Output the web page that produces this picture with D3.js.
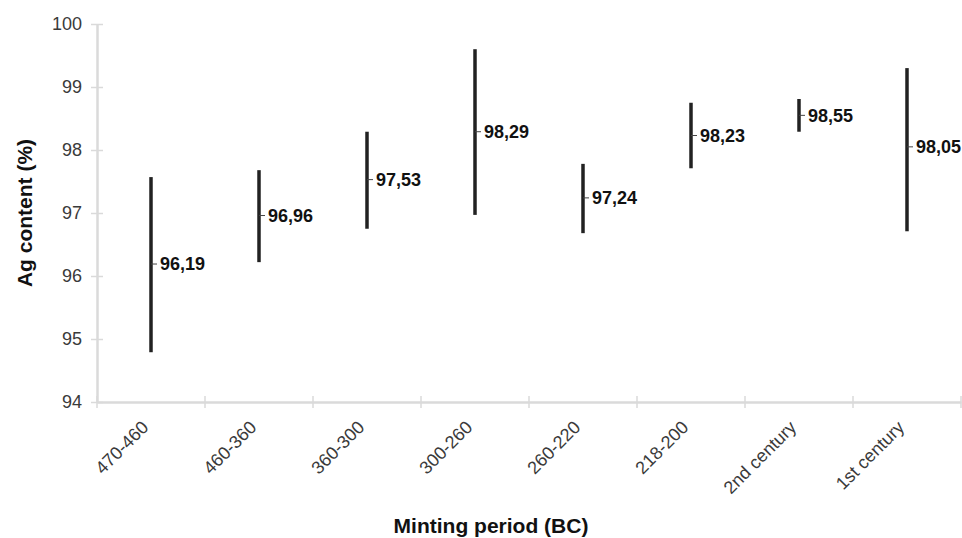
<!DOCTYPE html>
<html>
<head>
<meta charset="utf-8">
<script src="https://cdn.jsdelivr.net/npm/d3@7"></script>
<style>
  body { margin: 0; background: #fff; }
  text { font-family: "Liberation Sans", Arial, sans-serif; }
</style>
</head>
<body>
<div id="chart-area"></div>
<script>
// minting periods and Ag content (%) ranges
var periods = ["470-460", "460-360", "360-300", "300-260", "260-220", "218-200", "2nd century", "1st century"];
var mins  = [94.79, 96.22, 96.75, 96.97, 96.68, 97.71, 98.29, 96.71];
var maxs  = [97.57, 97.68, 98.29, 99.60, 97.78, 98.75, 98.81, 99.30];
var means = [96.19, 96.96, 97.53, 98.29, 97.24, 98.23, 98.55, 98.05];
var yTicks = [94, 95, 96, 97, 98, 99, 100];

var margin = {top: 24, right: 1, bottom: 136, left: 97};
var width = 962 - margin.left - margin.right;
var height = 538 - margin.top - margin.bottom;

var svg = d3.select("#chart-area").append("svg")
    .attr("width", 962)
    .attr("height", 538);

var g = svg.append("g")
    .attr("transform", "translate(" + margin.left + "," + margin.top + ")");

var data = periods.map(function(p, i){
  return {period: p, min: mins[i], max: maxs[i], mean: means[i]};
});

var xscale = d3.scaleBand()
    .domain(periods)
    .range([0, width]);

var yscale = d3.scaleLinear()
    .domain([94, 100])
    .range([height, 0]);

var axisColor = "#dadada";

// y axis
var leftaxis = d3.axisLeft(yscale)
    .tickValues(yTicks)
    .tickFormat(d3.format("d"))
    .tickSize(0)
    .tickPadding(15);

var yg = g.append("g").call(leftaxis);
yg.select(".domain").attr("stroke", axisColor).attr("stroke-width", 2.5);
yg.selectAll(".tick text")
  .attr("fill", "#3a3a3a")
  .attr("font-size", "18px")
  .style("font-family", "'Liberation Sans', Arial, sans-serif");
yg.selectAll(".tick").append("line")
  .attr("x1", -6).attr("x2", 6)
  .attr("stroke", axisColor).attr("stroke-width", 1.5);

// x axis
var bottomaxis = d3.axisBottom(xscale).tickSize(0).tickFormat("");
var xg = g.append("g")
    .attr("transform", "translate(0," + height + ")")
    .call(bottomaxis);
xg.select(".domain").attr("stroke", axisColor).attr("stroke-width", 2.5);
xg.selectAll(".tick").remove();

// category boundary ticks
var bounds = periods.map(function(p){ return xscale(p); }).concat([width]);
xg.selectAll(".bound")
  .data(bounds)
  .enter().append("line")
  .attr("x1", function(d){ return d; })
  .attr("x2", function(d){ return d; })
  .attr("y1", -6).attr("y2", 6)
  .attr("stroke", axisColor).attr("stroke-width", 1.5);

// rotated category labels
xg.selectAll(".xlab")
  .data(periods)
  .enter().append("text")
  .attr("text-anchor", "end")
  .attr("fill", "#3a3a3a")
  .attr("font-size", "18px")
  .attr("transform", function(d){
    return "translate(" + (xscale(d) + xscale.bandwidth()/2 - 6) + ",22) rotate(-45)";
  })
  .attr("dy", "0.35em")
  .text(function(d){ return d; });

// range bars
var cx = function(d){ return xscale(d.period) + xscale.bandwidth()/2; };

g.selectAll(".range")
  .data(data)
  .enter().append("line")
  .attr("x1", cx).attr("x2", cx)
  .attr("y1", function(d){ return yscale(d.min); })
  .attr("y2", function(d){ return yscale(d.max); })
  .attr("stroke", "#222")
  .attr("stroke-width", 3.5);

// mean tick
g.selectAll(".meantick")
  .data(data)
  .enter().append("line")
  .attr("x1", cx)
  .attr("x2", function(d){ return cx(d) + 6; })
  .attr("y1", function(d){ return yscale(d.mean); })
  .attr("y2", function(d){ return yscale(d.mean); })
  .attr("stroke", "#444")
  .attr("stroke-width", 1);

// mean labels
g.selectAll(".meanlab")
  .data(data)
  .enter().append("text")
  .attr("x", function(d){ return cx(d) + 9; })
  .attr("y", function(d){ return yscale(d.mean); })
  .attr("dy", "0.35em")
  .attr("font-size", "18px")
  .attr("font-weight", "bold")
  .attr("fill", "#111")
  .text(function(d){ return d3.format(".2f")(d.mean).replace(".", ","); });

// axis titles
svg.append("text")
  .attr("text-anchor", "middle")
  .attr("transform", "translate(32," + (margin.top + yscale(97)) + ") rotate(-90)")
  .attr("font-size", "21px")
  .attr("font-weight", "bold")
  .attr("fill", "#111")
  .text("Ag content (%)");

svg.append("text")
  .attr("text-anchor", "middle")
  .attr("x", 491)
  .attr("y", 533)
  .attr("font-size", "21px")
  .attr("font-weight", "bold")
  .attr("fill", "#111")
  .text("Minting period (BC)");
</script>
</body>
</html>
